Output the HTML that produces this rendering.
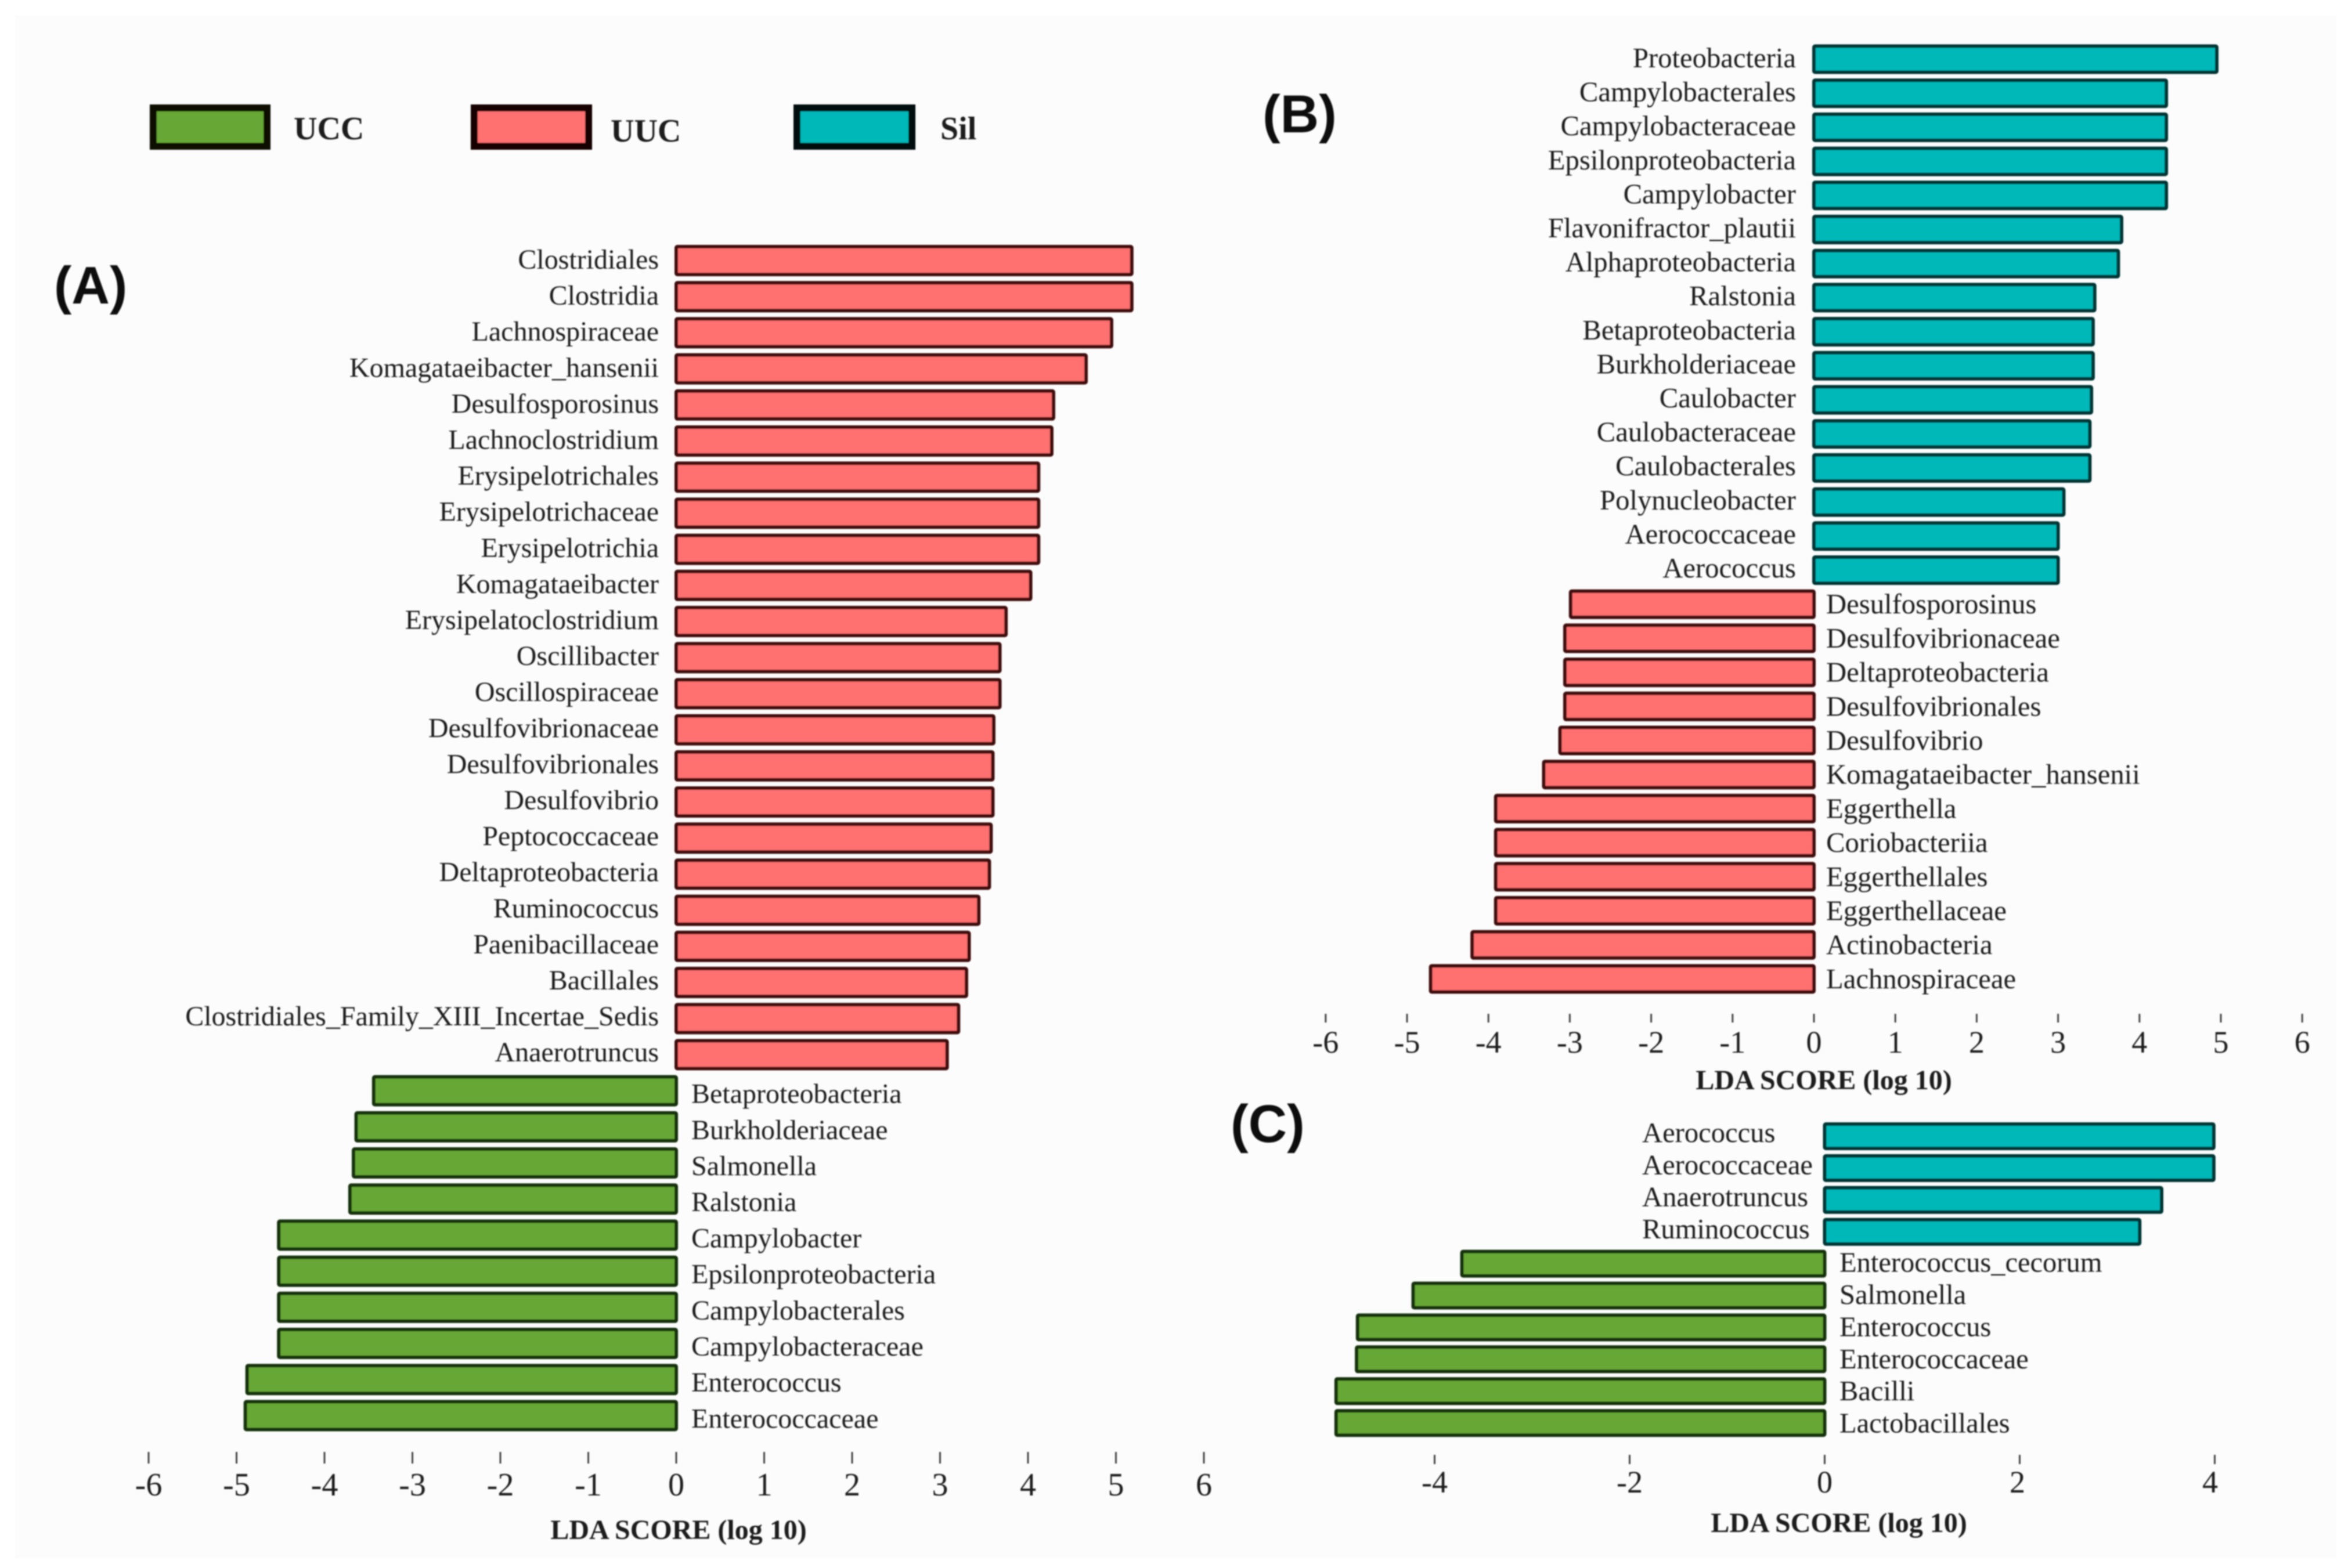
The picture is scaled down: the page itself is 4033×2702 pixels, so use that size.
<!DOCTYPE html>
<html lang="en">
<head>
<meta charset="utf-8">
<title>LDA score bar charts</title>
<style>
html,body{margin:0;padding:0;background:#fff;}
body{width:4033px;height:2702px;overflow:hidden;position:relative;}
#page{position:absolute;left:0;top:0;width:4033px;height:2702px;}
svg text{font-family:"Liberation Serif","Times New Roman",serif;fill:#1c1c1c;}
svg text.panel-letter{font-family:"Liberation Sans",Arial,sans-serif;font-weight:700;fill:#111;}
</style>
</head>
<body>
<svg id="page" xmlns="http://www.w3.org/2000/svg" width="4033" height="2702" viewBox="0 0 4033 2702">
  <defs><filter id="soft" x="-2%" y="-2%" width="104%" height="104%"><feGaussianBlur stdDeviation="1.1"/></filter></defs>
  <rect x="0" y="0" width="4033" height="2702" fill="#ffffff"/>
  <rect x="26" y="26" width="3999" height="2659" fill="#fcfcfc"/>
  <g id="art" filter="url(#soft)">
    <g>
      <g>
        <rect x="264" y="186" width="196" height="66" fill="#66a736" stroke="#0a0f06" stroke-width="12"/>
        <text x="506" y="240" font-size="56" font-weight="700">UCC</text>
      </g>
      <g>
        <rect x="817" y="186" width="197" height="66" fill="#ff7070" stroke="#120404" stroke-width="12"/>
        <text x="1052" y="244" font-size="56" font-weight="700">UUC</text>
      </g>
      <g>
        <rect x="1373" y="186" width="198" height="66" fill="#00b8b8" stroke="#041010" stroke-width="12"/>
        <text x="1620" y="240" font-size="56" font-weight="700">Sil</text>
      </g>
    </g>
    <text class="panel-letter" x="93" y="523" font-size="91">(A)</text>
    <text class="panel-letter" x="2175" y="228" font-size="92">(B)</text>
    <text class="panel-letter" x="2120" y="1968" font-size="92">(C)</text>
    <g id="charts"></g>
  </g>
</svg>
<script>
// ---------- Panel A data ----------
const aUucNames = ["Clostridiales","Clostridia","Lachnospiraceae","Komagataeibacter_hansenii","Desulfosporosinus","Lachnoclostridium","Erysipelotrichales","Erysipelotrichaceae","Erysipelotrichia","Komagataeibacter","Erysipelatoclostridium","Oscillibacter","Oscillospiraceae","Desulfovibrionaceae","Desulfovibrionales","Desulfovibrio","Peptococcaceae","Deltaproteobacteria","Ruminococcus","Paenibacillaceae","Bacillales","Clostridiales_Family_XIII_Incertae_Sedis","Anaerotruncus"];
const aUucValues = [5.18,5.18,4.95,4.66,4.29,4.27,4.12,4.12,4.12,4.03,3.75,3.68,3.68,3.61,3.60,3.60,3.58,3.56,3.44,3.33,3.30,3.21,3.08];
const aUccNames = ["Betaproteobacteria","Burkholderiaceae","Salmonella","Ralstonia","Campylobacter","Epsilonproteobacteria","Campylobacterales","Campylobacteraceae","Enterococcus","Enterococcaceae"];
const aUccValues = [-3.44,-3.64,-3.67,-3.71,-4.52,-4.52,-4.52,-4.52,-4.88,-4.90];
const aTicks = [-6,-5,-4,-3,-2,-1,0,1,2,3,4,5,6];

// ---------- Panel B data ----------
const bSilNames = ["Proteobacteria","Campylobacterales","Campylobacteraceae","Epsilonproteobacteria","Campylobacter","Flavonifractor_plautii","Alphaproteobacteria","Ralstonia","Betaproteobacteria","Burkholderiaceae","Caulobacter","Caulobacteraceae","Caulobacterales","Polynucleobacter","Aerococcaceae","Aerococcus"];
const bSilValues = [4.95,4.33,4.33,4.33,4.33,3.78,3.74,3.45,3.43,3.43,3.41,3.39,3.39,3.07,3.00,3.00];
const bUucNames = ["Desulfosporosinus","Desulfovibrionaceae","Deltaproteobacteria","Desulfovibrionales","Desulfovibrio","Komagataeibacter_hansenii","Eggerthella","Coriobacteriia","Eggerthellales","Eggerthellaceae","Actinobacteria","Lachnospiraceae"];
const bUucValues = [-2.99,-3.06,-3.06,-3.06,-3.12,-3.32,-3.91,-3.91,-3.91,-3.91,-4.20,-4.71];
const bTicks = [-6,-5,-4,-3,-2,-1,0,1,2,3,4,5,6];

// ---------- Panel C data ----------
const cSilNames = ["Aerococcus","Aerococcaceae","Anaerotruncus","Ruminococcus"];
const cSilValues = [3.99,3.99,3.455,3.23];
const cUccNames = ["Enterococcus_cecorum","Salmonella","Enterococcus","Enterococcaceae","Bacilli","Lactobacillales"];
const cUccValues = [-3.72,-4.22,-4.79,-4.80,-5.01,-5.01];
const cTicks = [-4,-2,0,2,4];

const axisTitle = "LDA SCORE (log 10)";
const SVGNS = "http://www.w3.org/2000/svg";
const GREEN = {fill:"#66a736",stroke:"#153208"};
const RED = {fill:"#ff7070",stroke:"#3f0c0c"};
const TEAL = {fill:"#00b8b8",stroke:"#043636"};
const chartsRoot = document.getElementById("charts");

function svgEl(tag, parent) {
  const el = document.createElementNS(SVGNS, tag);
  parent.appendChild(el);
  return el;
}

function slug(s) {
  return s.toLowerCase().replace(/[^a-z0-9]+/g, "-");
}

function drawBars(parent, panelId, names, values, color, opt, x, rowY) {
  names.forEach(function (name, i) {
    const v = values[i];
    const cy = rowY(opt.startRow + i);
    const x1 = x(Math.min(0, v));
    const x2 = x(Math.max(0, v));
    const rect = svgEl("rect", parent);
    
    
    rect.setAttribute("x", x1);
    rect.setAttribute("y", cy - opt.barH / 2);
    rect.setAttribute("width", x2 - x1);
    rect.setAttribute("height", opt.barH);
    rect.setAttribute("rx", 2);
    rect.setAttribute("fill", color.fill);
    rect.setAttribute("stroke", color.stroke);
    rect.setAttribute("stroke-width", opt.barStroke);

    const label = svgEl("text", parent);
    
    
    label.setAttribute("x", opt.labelX);
    label.setAttribute("y", rowY(opt.startRow) + i * opt.labelStep + opt.labelDy);
    label.setAttribute("font-size", opt.fontSize);
    label.setAttribute("text-anchor", opt.anchor);
    label.textContent = name;
  });
}

function drawAxis(parent, panelId, ticks, x, opt) {
  const axis = svgEl("g", parent);
  
  
  ticks.forEach(function (t) {
    const mark = svgEl("line", axis);
    
    
    mark.setAttribute("x1", x(t));
    mark.setAttribute("x2", x(t));
    mark.setAttribute("y1", opt.tickY1);
    mark.setAttribute("y2", opt.tickY2);
    mark.setAttribute("stroke", "#444");
    mark.setAttribute("stroke-width", 3);

    const lab = svgEl("text", axis);
    
    
    lab.setAttribute("x", x(t) - (t > 0 ? opt.labelPull * t : 0));
    lab.setAttribute("y", opt.tickLabelY);
    lab.setAttribute("font-size", opt.tickFont);
    lab.setAttribute("text-anchor", "middle");
    lab.textContent = String(t);
  });
  const title = svgEl("text", axis);
  
  
  title.setAttribute("x", opt.titleX);
  title.setAttribute("y", opt.titleY);
  title.setAttribute("font-size", 48);
  title.setAttribute("font-weight", 700);
  title.setAttribute("text-anchor", "middle");
  title.textContent = axisTitle;
}

function axisFn(zeroPx, pxPerUnit) {
  return function (v) { return zeroPx + v * pxPerUnit; };
}
function rowFn(firstPx, stepPx) {
  return function (i) { return firstPx + i * stepPx; };
}

// Panel A
const panelA = svgEl("g", chartsRoot);


const xA = axisFn(1165, 151.5);
const rowA = rowFn(449, 62.2);
drawBars(panelA, "a", aUucNames, aUucValues, RED, {startRow:0, barH:48, barStroke:6, labelX:1135, labelDy:14, labelStep:62.1, fontSize:48, anchor:"end"}, xA, rowA);
drawBars(panelA, "a", aUccNames, aUccValues, GREEN, {startRow:aUucNames.length, barH:48, barStroke:6, labelX:1191, labelDy:21, labelStep:62.2, fontSize:48, anchor:"start"}, xA, rowA);
drawAxis(panelA, "a", aTicks, xA, {tickY1:2502, tickY2:2522, tickLabelY:2577, tickFont:56, titleX:1169, titleY:2652, labelPull:0});

// Panel B
const panelB = svgEl("g", chartsRoot);


const xB = axisFn(3125, 140.2);
const rowB = rowFn(102, 58.7);
drawBars(panelB, "b", bSilNames, bSilValues, TEAL, {startRow:0, barH:45, barStroke:6, labelX:3094, labelDy:14, labelStep:58.6, fontSize:48.7, anchor:"end"}, xB, rowB);
drawBars(panelB, "b", bUucNames, bUucValues, RED, {startRow:bSilNames.length, barH:45, barStroke:6, labelX:3146, labelDy:16, labelStep:58.7, fontSize:48.7, anchor:"start"}, xB, rowB);
drawAxis(panelB, "b", bTicks, xB, {tickY1:1747, tickY2:1762, tickLabelY:1814, tickFont:54, titleX:3142, titleY:1877, labelPull:0});

// Panel C
const panelC = svgEl("g", chartsRoot);


const xC = axisFn(3143.5, 168);
const rowC = rowFn(1958, 54.9);
drawBars(panelC, "c", cSilNames, cSilValues, TEAL, {startRow:0, barH:42, barStroke:6, labelX:2829, labelDy:10, labelStep:55.3, fontSize:48.6, anchor:"start"}, xC, rowC);
drawBars(panelC, "c", cUccNames, cUccValues, GREEN, {startRow:cSilNames.length, barH:42, barStroke:6, labelX:3169, labelDy:14, labelStep:55.4, fontSize:48.5, anchor:"start"}, xC, rowC);
drawAxis(panelC, "c", cTicks, xC, {tickY1:2507, tickY2:2523, tickLabelY:2572, tickFont:54, titleX:3168, titleY:2640, labelPull:2});
</script>
</body>
</html>
